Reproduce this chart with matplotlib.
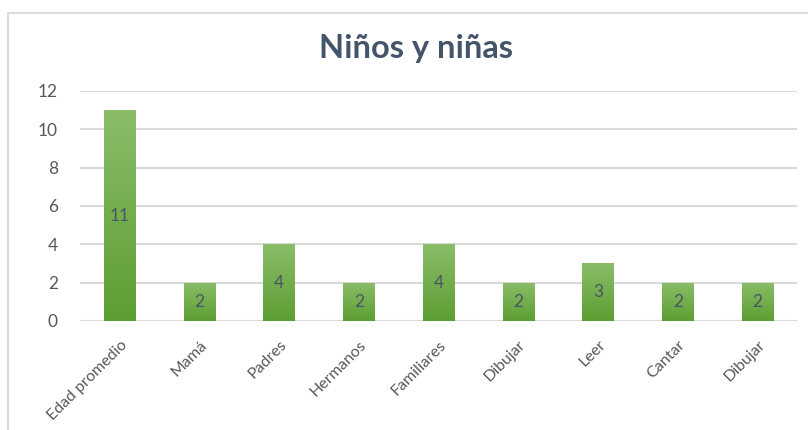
import numpy as np
import matplotlib.pyplot as plt
from matplotlib.patches import Rectangle
from matplotlib.colors import LinearSegmentedColormap

plt.rcParams['font.family'] = ['Lato', 'DejaVu Sans']

categories = ["Edad promedio", "Mamá", "Padres", "Hermanos", "Familiares",
              "Dibujar", "Leer", "Cantar", "Dibujar"]
values = [11, 2, 4, 2, 4, 2, 3, 2, 2]
y_ticks = [0, 2, 4, 6, 8, 10, 12]

TEXT = "#595959"
TITLE = "#44546a"
GRID = "#d9d9d9"
green = LinearSegmentedColormap.from_list("g", ["#5c9e31", "#8bbd69"])

fig = plt.figure(figsize=(8.08, 4.30), dpi=100)
ax = fig.add_axes([0.099, 0.2535, 0.888, 0.535])

x = np.arange(len(categories))
bars = ax.bar(x, values, width=0.4, color="none", zorder=3)
grad = np.linspace(0, 1, 256).reshape(-1, 1)
for b in bars:
    x0, w, h = b.get_x(), b.get_width(), b.get_height()
    im = ax.imshow(grad, cmap=green, origin="lower", aspect="auto",
                   extent=[x0, x0 + w, 0, h], zorder=3)
    im.set_clip_path(b)

for xi, v in zip(x, values):
    ax.text(xi, v / 2, str(v), ha="center", va="center", fontsize=12.5,
            color="#4a5566", zorder=4)

ax.set_xlim(-0.5, len(categories) - 0.5)
ax.set_ylim(0, 12)
ax.set_yticks(y_ticks)
ax.yaxis.grid(True, color=GRID, linewidth=1.5, zorder=0)
ax.set_axisbelow(True)
for s in ax.spines.values():
    s.set_visible(False)
ax.tick_params(length=0, colors=TEXT)
ax.tick_params(axis="y", pad=16, labelsize=12.5)
ax.set_xticks(x)
ax.set_xticklabels(categories, rotation=45, ha="right", rotation_mode="anchor")
ax.tick_params(axis="x", pad=12, labelsize=11.5)

fig.text(0.515, 0.888, "Niños y niñas", ha="center", va="center",
         fontsize=23.5, fontweight="bold", color=TITLE)

fig.patches.append(Rectangle((8 / 808, -0.05), 1.1, 0.05 + 1 - 13 / 430,
                             transform=fig.transFigure, fill=False,
                             edgecolor="#d9dde3", linewidth=1.5))

fig.savefig("out.png", dpi=100)
